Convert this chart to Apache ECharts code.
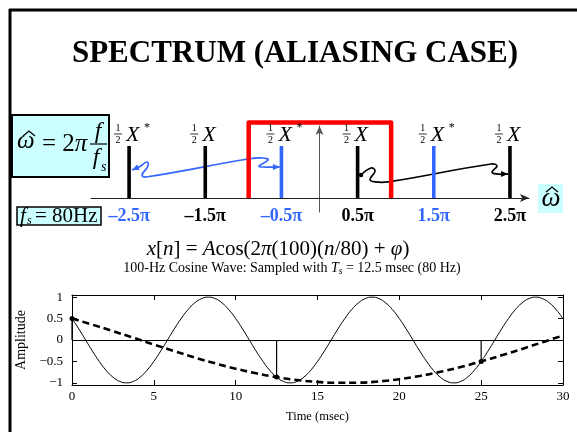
<!DOCTYPE html>
<html><head><meta charset="utf-8">
<script src="https://cdn.jsdelivr.net/npm/echarts@6/dist/echarts.min.js"></script>
<style>html,body{margin:0;padding:0;background:#fff}#c{width:577px;height:432px}</style>
</head><body><div id="c"></div>
<script>
// ---------- Spectrum (frequency in units of pi) ----------
const stemFreqs = [-2.5, -1.5, -0.5, 0.5, 1.5, 2.5];
const stemHeights = [1, 1, 1, 1, 1, 1];
const stemConj = [true, false, true, false, true, false];
const stemKind = ['orig', 'orig', 'alias', 'orig', 'alias', 'orig'];
const freqTickLabels = ['–2.5π', '–1.5π', '–0.5π', '0.5π', '1.5π', '2.5π'];
const freqTickKind = ['alias', 'orig', 'alias', 'orig', 'alias', 'orig'];
const nyquistBox = [-0.93, 0.94];
const nyquistBoxTop = 1.45;
// wavy arrows (frequency/pi, height)
const blueArrowW = [-2.462, -2.370, -2.265, -2.252, -2.330, -2.278, -0.939, -0.742, -0.676, -0.794, -0.742, -0.52];
const blueArrowH = [0.538, 0.596, 0.692, 0.615, 0.442, 0.404, 0.750, 0.769, 0.731, 0.615, 0.596, 0.596];
const blackArrowW = [0.545, 0.676, 0.729, 0.663, 0.729, 0.899, 2.252, 2.330, 2.265, 2.317, 2.475];
const blackArrowH = [0.442, 0.577, 0.519, 0.356, 0.308, 0.308, 0.654, 0.615, 0.500, 0.462, 0.462];

// ---------- Time signal ----------
const contTime = [0,0.417,0.833,1.25,1.667,2.083,2.5,2.917,3.333,3.75,4.167,4.583,5,5.417,5.833,6.25,6.667,7.083,7.5,7.917,8.333,8.75,9.167,9.583,
10,10.417,10.833,11.25,11.667,12.083,12.5,12.917,13.333,13.75,14.167,14.583,15,15.417,15.833,16.25,16.667,17.083,17.5,17.917,18.333,18.75,19.167,19.583,
20,20.417,20.833,21.25,21.667,22.083,22.5,22.917,23.333,23.75,24.167,24.583,25,25.417,25.833,26.25,26.667,27.083,27.5,27.917,28.333,28.75,29.167,29.583,30];
const contAmp = [0.5,0.259,0,-0.259,-0.5,-0.707,-0.866,-0.966,-1,-0.966,-0.866,-0.707,-0.5,-0.259,0,0.259,0.5,0.707,0.866,0.966,1,0.966,0.866,0.707,
0.5,0.259,0,-0.259,-0.5,-0.707,-0.866,-0.966,-1,-0.966,-0.866,-0.707,-0.5,-0.259,0,0.259,0.5,0.707,0.866,0.966,1,0.966,0.866,0.707,
0.5,0.259,0,-0.259,-0.5,-0.707,-0.866,-0.966,-1,-0.966,-0.866,-0.707,-0.5,-0.259,0,0.259,0.5,0.707,0.866,0.966,1,0.966,0.866,0.707,0.5];
const aliasTime = [0,1.25,2.5,3.75,5,6.25,7.5,8.75,10,11.25,12.5,13.75,15,16.25,17.5,18.75,20,21.25,22.5,23.75,25,26.25,27.5,28.75,30];
const aliasAmp = [0.5,0.358,0.208,0.052,-0.105,-0.259,-0.407,-0.545,-0.669,-0.777,-0.866,-0.934,-0.978,-0.999,-0.995,-0.966,-0.914,-0.839,-0.743,-0.629,-0.5,-0.358,-0.208,-0.052,0.105];
const sampleTime = [0, 12.5, 25];
const sampleAmp = [0.5, -0.866, -0.5];

// ---------- styles ----------
const SERIF = '"Liberation Serif", "Times New Roman", serif';
const BLUE = '#3366ff';
const CYAN = '#ccffff';
const kindColor = k => (k === 'alias' ? BLUE : '#000');

function pairs(xs, ys) { return xs.map((x, i) => [x, ys[i]]); }

function arrowHead(p0, p1, color) {
  const dx = p1[0] - p0[0], dy = p1[1] - p0[1];
  const L = Math.hypot(dx, dy) || 1, ux = dx / L, uy = dy / L;
  const len = 7, hw = 3;
  const bx = p1[0] - ux * len, by = p1[1] - uy * len;
  return { type: 'polygon', shape: { points: [[p1[0], p1[1]], [bx - uy * hw, by + ux * hw], [bx + uy * hw, by - ux * hw]] }, style: { fill: color } };
}

function squiggle(ws, hs, color, opts) {
  return {
    type: 'custom', xAxisIndex: 0, yAxisIndex: 0, silent: true, z: 3,
    data: [[ws[0], hs[0]]],
    renderItem: function (params, api) {
      const pts = ws.map((w, i) => api.coord([w, hs[i]]));
      const children = [{ type: 'polyline', shape: { points: pts, smooth: 0.45 }, style: { stroke: color, lineWidth: 1.7, fill: 'none' } }];
      if (opts.endArrow) children.push(arrowHead(pts[pts.length - 2], pts[pts.length - 1], color));
      if (opts.startArrow) children.push(arrowHead(pts[1], pts[0], color));
      if (opts.startDot) children.push({ type: 'circle', shape: { cx: pts[0][0], cy: pts[0][1], r: 2.3 }, style: { fill: color } });
      return { type: 'group', children: children };
    }
  };
}

const option = {
  animation: false,
  backgroundColor: '#fff',
  grid: [
    { left: 91, right: 48, top: 126, bottom: 220 },
    { left: 72, right: 14, top: 295, bottom: 47 }
  ],
  xAxis: [
    {
      gridIndex: 0, type: 'value', min: -3, max: 2.75,
      axisLine: { onZero: true, symbol: ['none', 'arrow'], symbolSize: [6, 9], lineStyle: { color: '#222', width: 1 } },
      axisTick: { show: false }, splitLine: { show: false },
      axisLabel: {
        customValues: stemFreqs, margin: -5,
        formatter: function (v) {
          const i = stemFreqs.findIndex(f => Math.abs(f - v) < 1e-6);
          return i < 0 ? '' : '{' + freqTickKind[i] + '|' + freqTickLabels[i] + '}';
        },
        rich: {
          alias: { color: BLUE, fontFamily: SERIF, fontWeight: 'bold', fontSize: 18 },
          orig: { color: '#000', fontFamily: SERIF, fontWeight: 'bold', fontSize: 18 }
        }
      }
    },
    {
      gridIndex: 1, type: 'value', min: 0, max: 30, interval: 5, position: 'bottom',
      axisLine: { onZero: false, lineStyle: { color: '#000', width: 1 } },
      axisTick: { inside: true, length: 5, lineStyle: { color: '#000' } },
      axisLabel: { color: '#000', fontFamily: SERIF, fontSize: 13, margin: 5 },
      splitLine: { show: false },
      name: 'Time (msec)', nameLocation: 'middle', nameGap: 25,
      nameTextStyle: { color: '#000', fontFamily: SERIF, fontSize: 12.5 }
    },
    {
      gridIndex: 1, type: 'value', min: 0, max: 30, interval: 5, position: 'top',
      axisLine: { onZero: false, lineStyle: { color: '#000', width: 1 } },
      axisTick: { inside: true, length: 5, lineStyle: { color: '#000' } },
      axisLabel: { show: false }, splitLine: { show: false }
    }
  ],
  yAxis: [
    {
      gridIndex: 0, type: 'value', min: -0.27, max: 1.385,
      axisLine: { show: true, onZero: true, symbol: ['none', 'arrow'], symbolSize: [6, 9], lineStyle: { color: '#555', width: 1 } },
      axisTick: { show: false }, axisLabel: { show: false }, splitLine: { show: false }
    },
    {
      gridIndex: 1, type: 'value', min: -1.05, max: 1.05, splitNumber: 4, position: 'left',
      axisLine: { show: true, onZero: false, lineStyle: { color: '#000', width: 1 } },
      axisTick: { show: true, inside: true, length: 5, lineStyle: { color: '#000' } },
      axisLabel: {
        color: '#000', fontFamily: SERIF, fontSize: 13, margin: 9, showMinLabel: false, showMaxLabel: false,
        formatter: v => (Math.abs(v) > 1.01 ? '' : (v < 0 ? '−' : '') + Math.abs(v))
      },
      splitLine: { show: false },
      name: 'Amplitude', nameLocation: 'middle', nameGap: 40, nameRotate: 90,
      nameTextStyle: { color: '#000', fontFamily: SERIF, fontSize: 14 }
    },
    {
      gridIndex: 1, type: 'value', min: -1.05, max: 1.05, splitNumber: 4, position: 'right',
      axisLine: { show: true, onZero: false, lineStyle: { color: '#000', width: 1 } },
      axisTick: { show: true, inside: true, length: 5, lineStyle: { color: '#000' } },
      axisLabel: { show: false }, splitLine: { show: false }
    }
  ],
  series: [
    squiggle(blueArrowW, blueArrowH, BLUE, { startArrow: true, endArrow: true }),
    squiggle(blackArrowW, blackArrowH, '#000', { endArrow: true, startDot: true }),
    {
      type: 'custom', xAxisIndex: 0, yAxisIndex: 0, silent: true, z: 4,
      data: [[nyquistBox[0], nyquistBoxTop]],
      renderItem: function (params, api) {
        const a = api.coord([nyquistBox[0], 0]), b = api.coord([nyquistBox[0], nyquistBoxTop]);
        const c = api.coord([nyquistBox[1], nyquistBoxTop]), d = api.coord([nyquistBox[1], 0]);
        return { type: 'polyline', shape: { points: [a, b, c, d] }, style: { stroke: '#ff0000', lineWidth: 4.5, lineJoin: 'round', fill: 'none' } };
      }
    },
    {
      type: 'custom', xAxisIndex: 0, yAxisIndex: 0, silent: true, z: 5,
      data: stemFreqs.map((f, i) => [f, stemHeights[i], i]),
      renderItem: function (params, api) {
        const i = api.value(2);
        const top = api.coord([api.value(0), api.value(1)]);
        const base = api.coord([api.value(0), 0]);
        const col = kindColor(stemKind[i]);
        const ch = [
          { type: 'line', shape: { x1: base[0], y1: base[1], x2: top[0], y2: top[1] }, style: { stroke: col, lineWidth: 3.6 } },
          { type: 'text', x: top[0] - 11, y: top[1] - 17.5, style: { text: '1', fontSize: 10, fontFamily: SERIF, fill: '#000', align: 'center', verticalAlign: 'middle' } },
          { type: 'line', shape: { x1: top[0] - 15, y1: top[1] - 12, x2: top[0] - 7, y2: top[1] - 12 }, style: { stroke: '#000', lineWidth: 0.8 } },
          { type: 'text', x: top[0] - 11, y: top[1] - 6, style: { text: '2', fontSize: 10, fontFamily: SERIF, fill: '#000', align: 'center', verticalAlign: 'middle' } },
          { type: 'text', x: top[0] - 3, y: top[1] - 10.5, style: { text: 'X', fontSize: 22, fontStyle: 'italic', fontFamily: SERIF, fill: '#000', align: 'left', verticalAlign: 'middle' } }
        ];
        if (stemConj[i]) ch.push({ type: 'text', x: top[0] + 15, y: top[1] - 18, style: { text: '*', fontSize: 12, fontFamily: SERIF, fill: '#000', align: 'left', verticalAlign: 'middle' } });
        return { type: 'group', children: ch };
      }
    },
    {
      type: 'line', xAxisIndex: 1, yAxisIndex: 1, data: pairs(contTime, contAmp), smooth: true,
      symbol: 'none', silent: true, lineStyle: { color: '#000', width: 1 },
      markLine: { silent: true, symbol: ['none', 'none'], label: { show: false }, lineStyle: { color: '#000', width: 1, type: 'solid' }, data: [{ yAxis: 0 }] }
    },
    {
      type: 'line', xAxisIndex: 1, yAxisIndex: 1, data: pairs(aliasTime, aliasAmp), smooth: true,
      symbol: 'none', silent: true, lineStyle: { color: '#000', width: 2.6, type: [7, 4] }
    },
    {
      type: 'custom', xAxisIndex: 1, yAxisIndex: 1, silent: true, z: 5,
      data: pairs(sampleTime, sampleAmp),
      renderItem: function (params, api) {
        const p = api.coord([api.value(0), api.value(1)]), b = api.coord([api.value(0), 0]);
        return { type: 'group', children: [
          { type: 'line', shape: { x1: b[0], y1: b[1], x2: p[0], y2: p[1] }, style: { stroke: '#000', lineWidth: 1.2 } },
          { type: 'circle', shape: { cx: p[0], cy: p[1], r: 2.5 }, style: { fill: '#000' } }
        ] };
      }
    }
  ],
  graphic: { elements: [
    // slide frame
    { type: 'line', shape: { x1: 9, y1: 10, x2: 577, y2: 10 }, style: { stroke: '#000', lineWidth: 3 } },
    { type: 'line', shape: { x1: 10, y1: 9, x2: 10, y2: 432 }, style: { stroke: '#000', lineWidth: 3 } },
    // title
    { type: 'text', x: 295, y: 54, style: { text: 'SPECTRUM (ALIASING CASE)', fontSize: 31, fontWeight: 'bold', fontFamily: SERIF, fill: '#000', align: 'center', verticalAlign: 'middle' } },
    // box 1: w-hat = 2 pi f / fs
    { type: 'rect', shape: { x: 12, y: 115, width: 97, height: 62 }, style: { fill: CYAN, stroke: '#000', lineWidth: 2 } },
    { type: 'text', x: 17, y: 141, style: { text: 'ω', fontSize: 25, fontStyle: 'italic', fontFamily: SERIF, fill: '#000', align: 'left', verticalAlign: 'middle' } },
    { type: 'polyline', shape: { points: [[23, 136], [29, 131], [35, 136]] }, style: { stroke: '#000', lineWidth: 1.3, fill: 'none' } },
    { type: 'text', x: 42, y: 144, style: { text: '{r|= 2}{i|π}', fill: '#000', align: 'left', verticalAlign: 'middle',
      rich: { r: { fontSize: 25, fontFamily: SERIF }, i: { fontSize: 25, fontFamily: SERIF, fontStyle: 'italic' } } } },
    { type: 'line', shape: { x1: 90, y1: 144, x2: 107, y2: 144 }, style: { stroke: '#000', lineWidth: 1.2 } },
    { type: 'text', x: 98, y: 132, style: { text: 'f', fontSize: 24, fontStyle: 'italic', fontFamily: SERIF, fill: '#000', align: 'center', verticalAlign: 'middle' } },
    { type: 'text', x: 96, y: 158, style: { text: 'f', fontSize: 24, fontStyle: 'italic', fontFamily: SERIF, fill: '#000', align: 'center', verticalAlign: 'middle' } },
    { type: 'text', x: 101, y: 167, style: { text: 's', fontSize: 14, fontStyle: 'italic', fontFamily: SERIF, fill: '#000', align: 'left', verticalAlign: 'middle' } },
    // box 2: fs = 80Hz
    { type: 'rect', shape: { x: 17, y: 207, width: 84, height: 18 }, style: { fill: CYAN, stroke: '#000', lineWidth: 1.5 } },
    { type: 'text', x: 20, y: 216, style: { text: 'f', fontSize: 21, fontStyle: 'italic', fontFamily: SERIF, fill: '#000', align: 'left', verticalAlign: 'middle' } },
    { type: 'text', x: 27, y: 221, style: { text: 's', fontSize: 12, fontStyle: 'italic', fontFamily: SERIF, fill: '#000', align: 'left', verticalAlign: 'middle' } },
    { type: 'text', x: 35, y: 216, style: { text: '= 80Hz', fontSize: 21, fontFamily: SERIF, fill: '#000', align: 'left', verticalAlign: 'middle' } },
    // axis name w-hat
    { type: 'rect', shape: { x: 538, y: 184, width: 25, height: 29 }, style: { fill: CYAN } },
    { type: 'text', x: 551, y: 199, style: { text: 'ω', fontSize: 27, fontStyle: 'italic', fontFamily: SERIF, fill: '#000', align: 'center', verticalAlign: 'middle' } },
    { type: 'polyline', shape: { points: [[546, 192], [552, 187], [558, 192]] }, style: { stroke: '#000', lineWidth: 1.3, fill: 'none' } },
    // equation
    { type: 'text', x: 278, y: 249, style: {
      text: '{i|x}{r|[}{i|n}{r|] = }{i|A}{r|cos(2}{i|π}{r|(100)(}{i|n}{r|/80) + }{i|φ}{r|)}',
      fill: '#000', align: 'center', verticalAlign: 'middle',
      rich: { r: { fontSize: 21, fontFamily: SERIF }, i: { fontSize: 21, fontFamily: SERIF, fontStyle: 'italic' } } } },
    // subtitle
    { type: 'text', x: 292, y: 268, style: {
      text: '{r|100-Hz Cosine Wave: Sampled with }{i|T}{s|s}{r| = 12.5 msec (80 Hz)}',
      fill: '#000', align: 'center', verticalAlign: 'middle',
      rich: { r: { fontSize: 14, fontFamily: SERIF, lineHeight: 16 }, i: { fontSize: 14, fontFamily: SERIF, fontStyle: 'italic', lineHeight: 16 },
              s: { fontSize: 9.5, fontFamily: SERIF, fontStyle: 'italic', lineHeight: 8, verticalAlign: 'bottom' } } } }
  ] }
};

const chart = echarts.init(document.getElementById('c'), null, { renderer: 'canvas' });
chart.setOption(option);
</script>
</body></html>
